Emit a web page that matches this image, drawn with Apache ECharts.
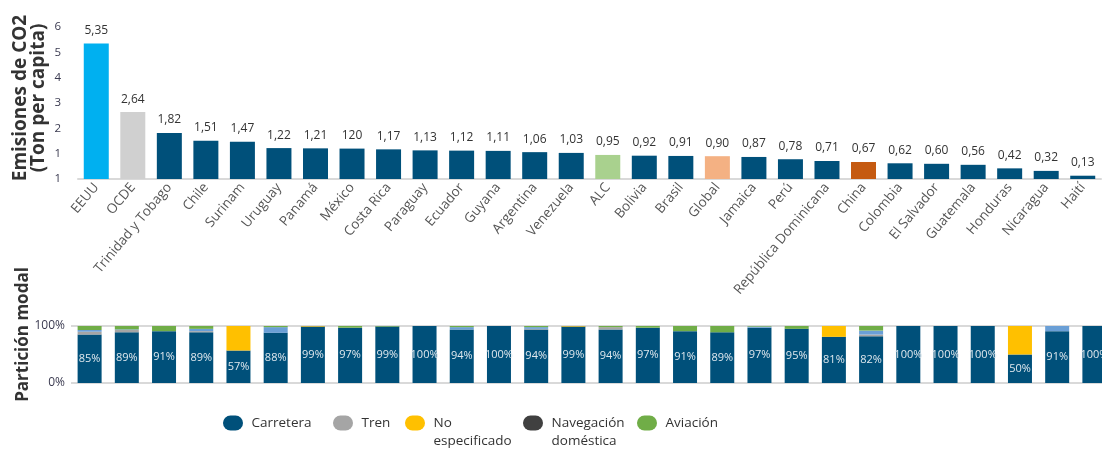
<!DOCTYPE html>
<html>
<head>
<meta charset="utf-8">
<script src="https://cdn.jsdelivr.net/npm/echarts@6/dist/echarts.min.js"></script>
<style>
html, body { margin: 0; padding: 0; background: #fff; }
#main { width: 1102px; height: 450px; }
</style>
</head>
<body>
<div id="main"></div>
<script>
// categorias (paises / regiones)
const countries = ['EEUU', 'OCDE', 'Trinidad y Tobago', 'Chile', 'Surinam', 'Uruguay', 'Panamá', 'México', 'Costa Rica', 'Paraguay', 'Ecuador', 'Guyana', 'Argentina', 'Venezuela', 'ALC', 'Bolivia', 'Brasil', 'Global', 'Jamaica', 'Perú', 'República Dominicana', 'China', 'Colombia', 'El Salvador', 'Guatemala', 'Honduras', 'Nicaragua', 'Haití']
// emisiones de CO2 (ton per capita)
const emissions = [5.35, 2.64, 1.82, 1.51, 1.47, 1.22, 1.21, 1.20, 1.17, 1.13, 1.12, 1.11, 1.06, 1.03, 0.95, 0.92, 0.91, 0.90, 0.87, 0.78, 0.71, 0.67, 0.62, 0.60, 0.56, 0.42, 0.32, 0.13]
const emissionLabels = ['5,35', '2,64', '1,82', '1,51', '1,47', '1,22', '1,21', '120', '1,17', '1,13', '1,12', '1,11', '1,06', '1,03', '0,95', '0,92', '0,91', '0,90', '0,87', '0,78', '0,71', '0,67', '0,62', '0,60', '0,56', '0,42', '0,32', '0,13']
const yTickLabels = ['1', '1', '2', '3', '4', '5', '6']
// particion modal (%)
const carretera = [85, 89, 91, 89, 57, 88, 99, 97, 99, 100, 94, 100, 94, 99, 94, 97, 91, 89, 97, 95, 81, 82, 100, 100, 100, 50, 91, 100]
const tren = [5, 4, 0, 2, 0, 0, 0, 0, 0, 0, 0, 0, 1, 0, 4, 0, 0, 0, 0, 0, 0, 3, 0, 0, 0, 0, 0, 0]
const noEspecificado = [0, 0, 0, 0, 43, 0, 1, 0, 0, 0, 0, 0, 0, 1, 0, 0, 0, 0, 0, 0, 19, 0, 0, 0, 0, 50, 0, 0]
const navegacion = [3, 1, 0, 4, 0, 10, 0, 0, 0, 0, 4, 0, 3, 0, 0, 0, 0, 0, 2, 0, 0, 7, 0, 0, 0, 0, 9, 0]
const aviacion = [7, 6, 9, 5, 0, 2, 0, 3, 1, 0, 2, 0, 2, 0, 2, 3, 9, 11, 1, 5, 0, 8, 0, 0, 0, 0, 0, 0]
const modes = ['Carretera', 'Tren', 'No\nespecificado', 'Navegación\ndoméstica', 'Aviación']

// colores destacados
const highlight = { EEUU: '#00b0f0', OCDE: '#d0d0d0', ALC: '#a9d18e', Global: '#f4b183', China: '#c55a11' }
const baseColor = '#00507a'
const font = 'Open Sans'
const pill = 'path://M7.5,0 H12.5 A7.5,7.5 0 0 1 12.5,15 H7.5 A7.5,7.5 0 0 1 7.5,0 Z'

const chart = echarts.init(document.getElementById('main'))

function stackSeries(name, data, color, extra) {
  return Object.assign({
    name: name,
    type: 'bar',
    stack: 'modal',
    xAxisIndex: 1,
    yAxisIndex: 1,
    barWidth: 24,
    itemStyle: { color: color },
    data: data
  }, extra || {})
}

// una leyenda por item, para fijar la posicion de cada una
const legendLeft = [218, 328, 400, 518, 632]
const legendIconColor = ['#00507a', '#a5a5a5', '#ffc000', '#404040', '#70ad47']
function legendItem(i) {
  const multi = modes[i].indexOf('\n') >= 0
  return {
    left: legendLeft[i],
    top: multi ? 391 : 409,
    icon: pill,
    itemWidth: 21,
    itemHeight: 15,
    // linea vacia arriba: la primera linea queda alineada con el icono
    formatter: multi ? function (name) { return '\n' + name } : '{name}',
    textStyle: {
      fontSize: 13.5,
      color: '#333',
      lineHeight: 18,
      fontFamily: font,
      backgroundColor: 'rgba(255,255,255,0)',
      padding: [0, 0, 0, 3]
    },
    data: [{ name: modes[i], itemStyle: { color: legendIconColor[i] } }]
  }
}

const option = {
  animation: false,
  textStyle: { fontFamily: font },
  grid: [
    { left: 78, right: 1, top: 27, bottom: 271, outerBoundsMode: 'none' },
    { left: 71, right: -11, top: 326, bottom: 67, outerBoundsMode: 'none' }
  ],
  legend: modes.map((m, i) => legendItem(i)),
  xAxis: [
    {
      type: 'category',
      gridIndex: 0,
      data: countries,
      axisLine: { lineStyle: { color: '#d9d9d9', width: 2 } },
      axisTick: { show: false },
      axisLabel: { rotate: 50, interval: 0, fontSize: 13.5, color: '#555', margin: 6 }
    },
    {
      type: 'category',
      gridIndex: 1,
      data: countries,
      axisLine: { show: false },
      axisTick: { show: false },
      axisLabel: { show: false }
    }
  ],
  yAxis: [
    {
      type: 'value',
      gridIndex: 0,
      min: 0,
      max: 6,
      interval: 1,
      name: 'Emisiones de CO2\n(Ton per capita)',
      nameLocation: 'middle',
      nameMoveOverlap: false,
      nameGap: 30,
      nameTextStyle: { fontSize: 19, fontWeight: 'bold', color: '#333', lineHeight: 18, padding: [0, 0, 0, 10] },
      splitLine: { show: false },
      axisLine: { show: false },
      axisTick: { show: false },
      axisLabel: {
        fontSize: 11.5,
        color: '#3a3a50',
        margin: 17,
        formatter: function (v) { return yTickLabels[v] }
      }
    },
    {
      type: 'value',
      gridIndex: 1,
      min: 0,
      max: 100,
      interval: 100,
      name: 'Partición modal',
      nameLocation: 'middle',
      nameMoveOverlap: false,
      nameGap: 39,
      nameTextStyle: { fontSize: 17, fontWeight: 'bold', color: '#333', padding: [0, 0, 0, 40] },
      splitLine: { show: true, lineStyle: { color: '#d9d9d9', width: 2 } },
      axisLine: { show: false },
      axisTick: { show: false },
      axisLabel: { fontSize: 12, color: '#3a3a50', margin: 6, formatter: '{value}%' }
    }
  ],
  series: [
    {
      name: 'Emisiones',
      type: 'bar',
      xAxisIndex: 0,
      yAxisIndex: 0,
      barWidth: 25,
      data: emissions,
      itemStyle: {
        color: function (p) { return highlight[p.name] || baseColor }
      },
      label: {
        show: true,
        position: 'top',
        distance: 7,
        fontSize: 12,
        color: '#333',
        formatter: function (p) { return emissionLabels[p.dataIndex] }
      }
    },
    stackSeries(modes[0], carretera, baseColor, {
      label: {
        show: true,
        position: 'inside',
        fontSize: 11,
        color: '#dfe8ee',
        formatter: '{c}%'
      }
    }),
    stackSeries(modes[1], tren, '#a5a5a5'),
    stackSeries(modes[2], noEspecificado, '#ffc000'),
    stackSeries(modes[3], navegacion, '#6a9fd6'),
    stackSeries(modes[4], aviacion, '#70ad47')
  ]
}

chart.setOption(option)
</script>
</body>
</html>
